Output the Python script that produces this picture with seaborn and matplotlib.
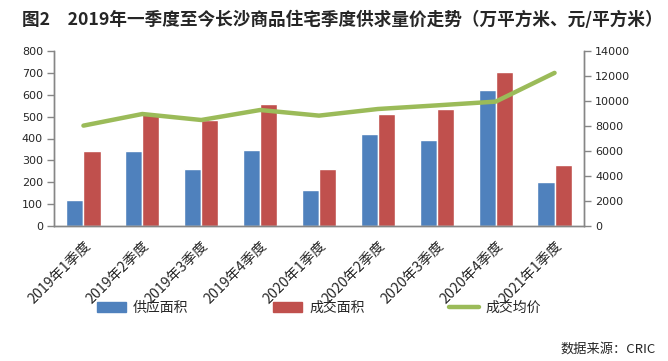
import matplotlib
matplotlib.use("Agg")
import matplotlib.pyplot as plt
import seaborn as sns
import pandas as pd
from matplotlib.patches import Patch
from matplotlib.lines import Line2D
from matplotlib.ticker import FixedLocator
from matplotlib.transforms import ScaledTranslation

# ---- data ----
quarters = ["2019年1季度", "2019年2季度", "2019年3季度", "2019年4季度",
            "2020年1季度", "2020年2季度", "2020年3季度", "2020年4季度", "2021年1季度"]
supply = [120, 343, 261, 347, 165, 420, 393, 622, 201]
deal = [343, 512, 485, 559, 261, 512, 535, 704, 279]
price = [8030, 8960, 8480, 9280, 8830, 9360, 9650, 9950, 12250]
series_names = ["供应面积", "成交面积", "成交均价"]
left_ticks = [0, 100, 200, 300, 400, 500, 600, 700, 800]
right_ticks = [0, 2000, 4000, 6000, 8000, 10000, 12000, 14000]
title = "图2　2019年一季度至今长沙商品住宅季度供求量价走势（万平方米、元/平方米）"
source = "数据来源：CRIC"

BLUE, RED, GREEN = "#4F81BD", "#C0504D", "#9BBB59"
GRAY = "#868686"
CJK = ["Noto Sans CJK SC", "DejaVu Sans"]

sns.set_style("white")
plt.rcParams["font.family"] = ["DejaVu Sans", "Noto Sans CJK SC"]

bars = pd.DataFrame({
    "quarter": quarters * 2,
    "value": supply + deal,
    "series": [series_names[0]] * len(quarters) + [series_names[1]] * len(quarters),
})

fig = plt.figure(figsize=(6.68, 3.61), dpi=100)
ax = fig.add_axes([54 / 668, 1 - 226 / 361, (584 - 54) / 668, (226 - 51) / 361])

sns.barplot(data=bars, x="quarter", y="value", hue="series",
            palette=[BLUE, RED], width=0.58, ax=ax, legend=False,
            saturation=1, order=quarters, hue_order=series_names[:2])

ax2 = ax.twinx()
sns.lineplot(x=quarters, y=price, ax=ax2, color=GREEN, linewidth=3.2, sort=False)

ax.set_xlim(-0.5, len(quarters) - 0.5)
ax.set_ylim(0, 800)
ax2.set_ylim(0, 14000)
ax.set_yticks(left_ticks)
ax2.set_yticks(right_ticks)
ax.set_xlabel("")
ax.set_ylabel("")
ax2.set_ylabel("")

for a in (ax, ax2):
    for s in a.spines.values():
        s.set_color(GRAY)
        s.set_linewidth(1.0)
    a.spines["top"].set_visible(False)
    a.grid(False)

ax.set_xticks(range(len(quarters)))
ax.set_xticklabels(quarters, rotation=45, ha="right", rotation_mode="anchor",
                   family=CJK, fontsize=10.2)
shift = ScaledTranslation(9 / 100, 0, fig.dpi_scale_trans)
for lab in ax.get_xticklabels():
    lab.set_transform(lab.get_transform() + shift)
ax.tick_params(axis="x", which="major", length=0, pad=9)
ax.xaxis.set_minor_locator(FixedLocator([i - 0.5 for i in range(len(quarters) + 1)]))
ax.tick_params(axis="x", which="minor", length=5, width=1, color=GRAY, direction="out")
ax2.tick_params(axis="x", which="both", length=0, labelbottom=False)

ax.tick_params(axis="y", left=True, length=5, width=1, color=GRAY, labelsize=8, pad=3)
ax2.tick_params(axis="y", right=True, length=5, width=1, color=GRAY, labelsize=8, pad=3)

fig.text(0.513, 0.945, title, ha="center", va="center", fontsize=12.7,
         fontweight="bold", family=CJK)
fig.text(0.981, 0.033, source, ha="right", va="center", fontsize=9.5, family=CJK)

handles = [Patch(facecolor=BLUE, edgecolor=BLUE),
           Patch(facecolor=RED, edgecolor=RED),
           Line2D([0], [0], color=GREEN, linewidth=3.2)]
fig.legend(handles, series_names, ncol=3, loc="center",
           bbox_to_anchor=(0.4775, 0.147), frameon=False,
           handlelength=2.1, handleheight=0.7, handletextpad=0.5,
           columnspacing=6.1, prop={"family": CJK, "size": 10})

fig.savefig("out.png", dpi=100)
